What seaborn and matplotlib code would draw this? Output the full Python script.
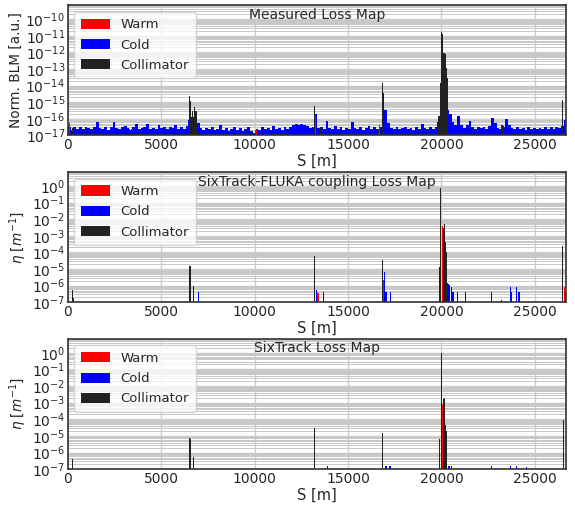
import matplotlib
matplotlib.use("Agg")
import matplotlib.pyplot as plt
from matplotlib.ticker import LogLocator, NullFormatter
import seaborn as sns

# ---------------- data ----------------
# Measured loss map: cold BLM readings
meas_cold_s = [
    75, 225, 375, 525, 675, 825, 975, 1125, 1275, 1425, 1575, 1725,
    1875, 2025, 2175, 2325, 2475, 2625, 2775, 2925, 3075, 3225, 3375, 3525,
    3675, 3825, 3975, 4125, 4275, 4425, 4575, 4725, 4875, 5025, 5175, 5325,
    5475, 5625, 5775, 5925, 6075, 6225, 6375, 6525, 6675, 6825, 6975, 7125,
    7275, 7425, 7575, 7725, 7875, 8025, 8175, 8325, 8475, 8625, 8775, 8925,
    9075, 9225, 9375, 9525, 9675, 9825, 9975, 10125, 10275, 10425, 10575, 10725,
    10875, 11025, 11175, 11325, 11475, 11625, 11775, 11925, 12075, 12225, 12375, 12525,
    12675, 12825, 12975, 13125, 13275, 13425, 13575, 13725, 13875, 14025, 14175, 14325,
    14475, 14625, 14775, 14925, 15075, 15225, 15375, 15525, 15675, 15825, 15975, 16125,
    16275, 16425, 16575, 16725, 16875, 17025, 17175, 17325, 17475, 17625, 17775, 17925,
    18075, 18225, 18375, 18525, 18675, 18825, 18975, 19125, 19275, 19425, 19575, 19725,
    19875, 20025, 20175, 20325, 20475, 20625, 20775, 20925, 21075, 21225, 21375, 21525,
    21675, 21825, 21975, 22125, 22275, 22425, 22575, 22725, 22875, 23025, 23175, 23325,
    23475, 23625, 23775, 23925, 24075, 24225, 24375, 24525, 24675, 24825, 24975, 25125,
    25275, 25425, 25575, 25725, 25875, 26025, 26175, 26325, 26475, 26625,
]
meas_cold_v = [
    3.0e-17, 2.2e-17, 3.3e-17, 2.6e-17, 3.0e-17, 2.4e-17, 3.2e-17, 2.7e-17, 2.3e-17, 3.4e-17, 6.0e-17, 2.8e-17,
    2.5e-17, 3.1e-17, 2.2e-17, 3.3e-17, 6.5e-17, 2.9e-17, 2.6e-17, 3.2e-17, 3.8e-17, 2.7e-17, 2.1e-17, 3.0e-17,
    4.8e-17, 2.5e-17, 2.8e-17, 3.4e-17, 5.2e-17, 2.6e-17, 2.9e-17, 2.3e-17, 4.5e-17, 2.7e-17, 3.1e-17, 2.4e-17,
    3.3e-17, 2.8e-17, 4.4e-17, 2.6e-17, 3.0e-17, 2.3e-17, 3.6e-17, 9.0e-17, 1.2e-16, 9.0e-17, 5.5e-17, 2.7e-17,
    2.1e-17, 2.9e-17, 2.3e-17, 3.2e-17, 2.0e-17, 2.6e-17, 4.2e-17, 2.2e-17, 2.8e-17, 1.9e-17, 2.5e-17, 3.1e-17,
    2.1e-17, 2.7e-17, 1.8e-17, 2.4e-17, 3.0e-17, 1.9e-17, 1.4e-17, 2.6e-17, 2.2e-17, 3.3e-17, 2.3e-17, 2.9e-17,
    2.0e-17, 3.9e-17, 2.5e-17, 2.8e-17, 2.1e-17, 3.2e-17, 2.6e-17, 3.0e-17, 4.3e-17, 4.9e-17, 4.1e-17, 5.1e-17,
    4.5e-17, 3.6e-17, 2.9e-17, 3.3e-17, 1.9e-16, 2.7e-17, 3.1e-17, 2.4e-17, 7.5e-17, 2.8e-17, 2.3e-17, 3.5e-17,
    2.6e-17, 3.0e-17, 2.2e-17, 2.7e-17, 2.4e-17, 6.5e-17, 2.9e-17, 2.5e-17, 3.2e-17, 2.1e-17, 2.8e-17, 3.7e-17,
    2.3e-17, 3.0e-17, 2.6e-17, 3.3e-17, 3.8e-15, 3.5e-16, 5.5e-17, 2.9e-17, 2.5e-17, 3.1e-17, 2.3e-17, 2.7e-17,
    3.4e-17, 2.4e-17, 2.9e-17, 2.2e-17, 3.1e-17, 2.6e-17, 4.6e-17, 2.8e-17, 2.3e-17, 3.0e-17, 2.5e-17, 3.3e-17,
    5.5e-17, 2.0e-15, 1.0e-15, 3.5e-16, 2.0e-16, 6.0e-17, 4.0e-17, 1.5e-16, 4.2e-17, 2.9e-17, 4.4e-17, 7.5e-17,
    3.1e-17, 2.5e-17, 3.3e-17, 2.7e-17, 3.0e-17, 2.4e-17, 3.9e-17, 1.1e-16, 5.5e-17, 2.9e-17, 2.6e-17, 3.2e-17,
    1.0e-16, 4.0e-17, 2.7e-17, 2.3e-17, 3.0e-17, 2.5e-17, 2.8e-17, 2.2e-17, 3.1e-17, 2.4e-17, 2.7e-17, 2.3e-17,
    2.9e-17, 2.5e-17, 3.2e-17, 2.6e-17, 3.0e-17, 2.4e-17, 3.3e-17, 2.7e-17, 3.7e-17, 8.5e-17,
]
meas_warm_s = [100, 10075, 13270, 16700]
meas_warm_v = [5.5e-17, 2.1e-17, 1.4e-16, 4.0e-17]
meas_coll_s = [250, 3300, 3400, 6500, 6570, 6680, 6770, 6860, 13200, 13520, 16560, 16640,
               16840, 16910, 19800, 19870, 19940, 20010, 20070, 20130, 20190, 20250, 20310,
               23240, 23300, 26500]
meas_coll_v = [2.7e-17, 2.5e-17, 2.4e-17, 2.5e-15, 1.2e-15, 2.8e-16, 5.0e-16, 2.8e-16, 5.8e-16, 2.7e-17, 2.5e-17, 2.6e-17,
               1.5e-14, 1.5e-15, 6.0e-17, 1.5e-16, 1.4e-14, 1.7e-11, 1.3e-11, 9.0e-13, 8.0e-13, 1.1e-13, 3.0e-14,
               4.0e-17, 3.5e-17, 1.3e-15]

# SixTrack-FLUKA coupling loss map
fl_warm_s = [6645, 13360, 13430, 13500, 16900, 20060, 26580]
fl_warm_v = [5.4e-7, 3.4e-7, 3.4e-7, 3.4e-7, 2.2e-6, 3.9e-3, 8.6e-7]
fl_cold_s = [320, 7000, 13290, 13680, 16950, 17010, 17060, 17260, 20280, 20330, 20380, 20430,
             20525, 20600, 20650, 20880, 21310, 22700, 23720, 23760, 24040, 24110, 24170, 26630]
fl_cold_v = [1.7e-7, 3.9e-7, 5.4e-7, 4.3e-7, 6.2e-6, 4.3e-7, 4.3e-7, 4.3e-7, 1.7e-6, 1.5e-6, 1.2e-6, 1.1e-6,
             8.6e-7, 4.3e-7, 4.3e-7, 4.3e-7, 4.3e-7, 4.3e-7, 8.6e-7, 4.3e-7, 8.6e-7, 4.3e-7, 4.3e-7, 4.0e-7]
fl_coll_s = [250, 6500, 6550, 6735, 13200, 16830, 19900, 19970, 20110, 20160, 20210, 20260, 23220, 26500]
fl_coll_v = [5.4e-7, 1.6e-5, 1.5e-5, 9.8e-7, 5.8e-5, 3.3e-5, 1.4e-5, 0.78, 3.0e-3, 5.0e-3, 4.2e-4, 1.0e-4, 1.3e-7, 2.3e-4]

# SixTrack loss map
st_warm_s = [20050, 20090]
st_warm_v = [8.0e-4, 7.0e-4]
st_cold_s = [13900, 17000, 17070, 17200, 17280, 20300, 20350, 20400, 20450, 20550, 20620,
             22690, 23720, 24040, 24100, 24150, 24550]
st_cold_v = [1.5e-7, 1.6e-7, 1.6e-7, 1.6e-7, 1.6e-7, 1.6e-7, 1.6e-7, 1.6e-7, 1.6e-7, 1.6e-7, 1.6e-7,
             1.6e-7, 1.6e-7, 1.6e-7, 1.6e-7, 1.6e-7, 1.4e-7]
st_coll_s = [250, 6500, 6550, 6750, 13200, 16845, 19900, 19990, 20130, 20160, 20200, 20270, 26530]
st_coll_v = [3.9e-7, 7.4e-6, 6.5e-6, 5.2e-7, 2.8e-5, 1.4e-5, 6.7e-6, 1.0, 1.6e-3, 2.0e-3, 4.8e-5, 2.1e-5, 8.9e-5]

titles = ["Measured Loss Map", "SixTrack-FLUKA coupling Loss Map", "SixTrack Loss Map"]
ylabels = ["Norm. BLM [a.u.]", r"$\eta$ [$m^{-1}$]", r"$\eta$ [$m^{-1}$]"]
labels = ["Warm", "Cold", "Collimator"]
ring_length = 26659

# ---------------- style ----------------
sns.set_theme(style="whitegrid", rc={
    "axes.edgecolor": "0.2",
    "axes.linewidth": 1.2,
    "grid.color": "0.78",
})
plt.rcParams["font.family"] = ["DejaVu Sans"]

colors = {"Warm": "#ff0000", "Cold": "#0000ff", "Collimator": "#222222"}

fig, axes = plt.subplots(3, 1, figsize=(5.75, 5.05), dpi=100)
fig.subplots_adjust(left=0.118, right=0.984, top=0.99, bottom=0.071, hspace=0.28)

panels = [
    (meas_warm_s, meas_warm_v, meas_cold_s, meas_cold_v, meas_coll_s, meas_coll_v, 150, 70, (1e-17, 7e-10)),
    (fl_warm_s, fl_warm_v, fl_cold_s, fl_cold_v, fl_coll_s, fl_coll_v, 45, 50, (1e-7, 7)),
    (st_warm_s, st_warm_v, st_cold_s, st_cold_v, st_coll_s, st_coll_v, 45, 50, (1e-7, 7)),
]

for ax, (ws, wv, cs, cv, ks, kv, cw, kw, ylim), title, ylab in zip(axes, panels, titles, ylabels):
    ax.set_yscale("log")
    ax.bar(cs, cv, width=cw, color=colors["Cold"], linewidth=0, label="Cold", zorder=2)
    ax.bar(ws, wv, width=kw, color=colors["Warm"], linewidth=0, label="Warm", zorder=3)
    ax.bar(ks, kv, width=kw, color=colors["Collimator"], linewidth=0, label="Collimator", zorder=4)
    ax.set_xlim(0, ring_length)
    ax.set_ylim(*ylim)
    ax.yaxis.set_major_locator(LogLocator(base=10, numticks=40))
    ax.yaxis.set_minor_locator(LogLocator(base=10, subs=[2, 3, 4, 5, 6, 7, 8, 9], numticks=40))
    ax.yaxis.set_minor_formatter(NullFormatter())
    ax.grid(True, which="major", axis="both", color="0.8", linewidth=1.0)
    ax.grid(True, which="minor", axis="y", color="0.78", linewidth=0.7)
    ax.set_axisbelow(True)
    ax.tick_params(axis="both", labelsize=10, length=0, pad=2)
    ax.set_xlabel("S [m]", fontsize=10.5, labelpad=1)
    ax.set_ylabel(ylab, fontsize=9.8, labelpad=2)
    ax.set_title(title, fontsize=10, y=0.895, pad=0, color="0.15")
    handles, labs = ax.get_legend_handles_labels()
    order = [labs.index(l) for l in labels]
    leg = ax.legend([handles[i] for i in order], [labs[i] for i in order],
                    loc="upper left", fontsize=9.5, frameon=True, framealpha=0.8,
                    handlelength=2.2, handleheight=0.8, borderpad=0.5, labelspacing=0.55)
    leg.set_zorder(10)
    for spine in ax.spines.values():
        spine.set_color("0.2")
        spine.set_zorder(11)

fig.savefig("out.png", dpi=100)
